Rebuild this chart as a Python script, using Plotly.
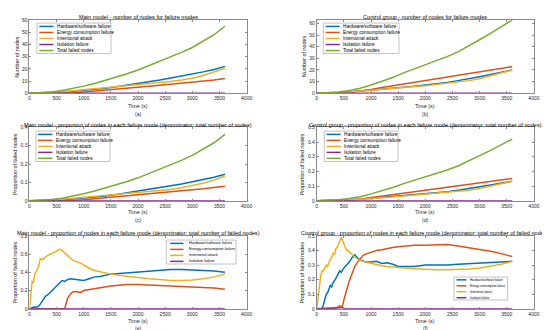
import plotly.graph_objects as go

W, H = 550, 330

# ---------------- data ----------------
NAMES = ["Hardware/software failure", "Energy consumption failure",
         "Intentional attack", "Isolation failure", "Total failed nodes"]
COLORS = ["#0072BD", "#D95319", "#EDB120", "#7E2F8E", "#77AC30"]

T = [0, 200, 400, 600, 800, 1000, 1200, 1400, 1600, 1800, 2000, 2200, 2400,
     2600, 2800, 3000, 3200, 3400, 3600]

# (a) main model - number of nodes
a_hw = [0, 0.1, 0.4, 0.9, 1.5, 2.2, 3, 4, 5.2, 6.5, 7.8, 9.2, 10.8, 12.5, 14, 15.8, 17.5, 19.5, 22]
a_ec = [0, 0, 0, 0, 0.3, 0.9, 1.6, 2.4, 3.2, 4, 4.8, 5.6, 6.5, 7.3, 8.2, 9, 9.9, 10.9, 12]
a_ia = [0, 0.2, 0.6, 1.2, 2, 2.8, 3.5, 4.2, 5, 5.8, 6.5, 7.5, 8.5, 9.5, 10.8, 12.3, 14.5, 17.2, 20.5]
a_iso = [0, 0, 0, 0, 0, 0, 0, 0, 0, 0, 0, 0, 0, 0, 0, 0, 0, 0, 0]
a_tot = [0, 0.3, 1, 2.2, 3.8, 5.8, 8, 10.5, 13, 16, 19, 22.5, 26, 29.5, 33.5, 37.5, 42.5, 48, 55]

# (b) control group - number of nodes
b_hw = [0, 0.1, 0.4, 1, 1.7, 2.5, 3.3, 4, 5, 6, 7, 8, 9.3, 10.8, 12.3, 14.2, 16, 18, 20]
b_ec = [0, 0, 0.2, 0.8, 1.8, 3.2, 4.8, 6.3, 7.8, 9.3, 10.8, 12.3, 13.8, 15.3, 17, 18.8, 20.3, 21.6, 22.8]
b_ia = [0, 0.2, 0.5, 1, 1.6, 2.3, 3.1, 3.9, 4.8, 5.7, 6.5, 7.5, 8.5, 9.5, 10.8, 12.5, 14.8, 17.2, 20]
b_iso = [0, 0, 0, 0, 0, 0, 0, 0, 0, 0, 0, 0, 0, 0, 0, 0, 0, 0, 0]
b_tot = [0, 0.3, 1, 2.3, 4.2, 7, 10, 13.5, 17.5, 21, 24, 28, 31.5, 35.5, 40.5, 46, 51.5, 57, 63]

# (c) main model - proportion of all nodes
c_hw = [0, 0.001, 0.003, 0.006, 0.01, 0.014, 0.02, 0.026, 0.034, 0.043, 0.051, 0.06, 0.071, 0.082, 0.092, 0.104, 0.115, 0.128, 0.145]
c_ec = [0, 0, 0, 0, 0.002, 0.006, 0.011, 0.016, 0.021, 0.026, 0.032, 0.037, 0.043, 0.048, 0.054, 0.059, 0.065, 0.072, 0.079]
c_ia = [0, 0.001, 0.004, 0.008, 0.013, 0.018, 0.023, 0.028, 0.033, 0.038, 0.043, 0.049, 0.056, 0.062, 0.071, 0.081, 0.095, 0.113, 0.135]
c_iso = [0, 0, 0, 0, 0, 0, 0, 0, 0, 0, 0, 0, 0, 0, 0, 0, 0, 0, 0]
c_tot = [0, 0.002, 0.007, 0.014, 0.025, 0.038, 0.053, 0.069, 0.086, 0.105, 0.125, 0.148, 0.171, 0.194, 0.22, 0.247, 0.28, 0.316, 0.362]

# (d) control group - proportion of all nodes
d_hw = [0, 0.001, 0.003, 0.007, 0.011, 0.017, 0.022, 0.027, 0.033, 0.04, 0.047, 0.053, 0.062, 0.072, 0.082, 0.095, 0.107, 0.12, 0.133]
d_ec = [0, 0, 0.001, 0.005, 0.012, 0.021, 0.032, 0.042, 0.052, 0.062, 0.072, 0.082, 0.092, 0.102, 0.113, 0.125, 0.135, 0.144, 0.152]
d_ia = [0, 0.001, 0.003, 0.007, 0.011, 0.015, 0.021, 0.026, 0.032, 0.038, 0.043, 0.05, 0.057, 0.063, 0.072, 0.083, 0.099, 0.115, 0.133]
d_iso = [0, 0, 0, 0, 0, 0, 0, 0, 0, 0, 0, 0, 0, 0, 0, 0, 0, 0, 0]
d_tot = [0, 0.002, 0.007, 0.015, 0.028, 0.047, 0.067, 0.09, 0.117, 0.14, 0.16, 0.187, 0.21, 0.237, 0.27, 0.307, 0.343, 0.38, 0.42]

# (e) main model - proportion of failed nodes
Te = [0, 25, 50, 75, 100, 125, 150, 175, 200, 250, 300, 350, 400, 450, 500, 550, 600,
      650, 700, 750, 800, 850, 900, 950, 1000, 1100, 1200, 1300, 1400, 1500, 1600,
      1800, 2000, 2200, 2400, 2600, 2800, 3000, 3200, 3400, 3600]
e_hw = [0, 0, 0.015, 0.02, 0.02, 0.02, 0.02, 0.03, 0.05, 0.10, 0.14, 0.16, 0.19, 0.22, 0.26, 0.29, 0.31,
        0.30, 0.32, 0.33, 0.325, 0.32, 0.315, 0.315, 0.31, 0.33, 0.35, 0.355, 0.37, 0.38, 0.385,
        0.395, 0.405, 0.415, 0.42, 0.43, 0.43, 0.425, 0.42, 0.415, 0.40]
e_ec = [0, 0, 0, 0, 0, 0, 0, 0, 0, 0, 0, 0, 0, 0, 0, 0, 0,
        0, 0.11, 0.16, 0.185, 0.19, 0.185, 0.18, 0.20, 0.21, 0.22, 0.235, 0.24, 0.25, 0.255,
        0.265, 0.265, 0.26, 0.258, 0.255, 0.25, 0.245, 0.237, 0.228, 0.215]
e_ia = [0, 0.15, 0.30, 0.29, 0.38, 0.41, 0.45, 0.47, 0.55, 0.54, 0.57, 0.59, 0.60, 0.62, 0.63, 0.655, 0.64,
        0.61, 0.59, 0.56, 0.53, 0.52, 0.51, 0.50, 0.48, 0.445, 0.42, 0.405, 0.39, 0.38, 0.37,
        0.355, 0.34, 0.33, 0.32, 0.31, 0.31, 0.315, 0.33, 0.35, 0.38]
e_iso = [0, 0, 0, 0, 0, 0, 0, 0, 0, 0, 0, 0, 0, 0, 0, 0, 0,
         0, 0, 0, 0, 0, 0, 0, 0, 0, 0, 0, 0, 0, 0,
         0, 0, 0, 0, 0, 0, 0, 0, 0, 0]

# (f) control group - proportion of failed nodes
Tf = [0, 25, 50, 75, 100, 125, 150, 175, 200, 225, 250, 275, 300, 325, 350, 375, 400, 425,
      450, 475, 500, 525, 550, 575, 600, 650, 700, 750, 800, 850, 900, 1000, 1100, 1200,
      1300, 1400, 1500, 1600, 1800, 2000, 2200, 2400, 2600, 2800, 3000, 3200, 3400, 3600]
f_hw = [0, 0, 0, 0, 0, 0.03, 0.07, 0.10, 0.11, 0.13, 0.16, 0.15, 0.18, 0.19, 0.21, 0.22, 0.24, 0.26,
        0.25, 0.27, 0.28, 0.29, 0.30, 0.31, 0.32, 0.35, 0.37, 0.35, 0.335, 0.33, 0.32, 0.32, 0.325, 0.31,
        0.315, 0.305, 0.29, 0.29, 0.29, 0.30, 0.298, 0.30, 0.305, 0.31, 0.315, 0.32, 0.323, 0.325]
f_ec = [0, 0, 0, 0, 0, 0, 0, 0, 0, 0, 0, 0, 0, 0, 0.005, 0.01, 0.015, 0.02,
        0.015, 0.02, 0.06, 0.10, 0.13, 0.16, 0.19, 0.24, 0.29, 0.32, 0.345, 0.365, 0.375, 0.39, 0.40, 0.405,
        0.415, 0.42, 0.425, 0.43, 0.435, 0.435, 0.44, 0.44, 0.43, 0.42, 0.41, 0.395, 0.378, 0.358]
f_ia = [0, 0.08, 0.18, 0.23, 0.26, 0.26, 0.28, 0.30, 0.29, 0.32, 0.34, 0.35, 0.38, 0.37, 0.41, 0.42, 0.44, 0.46,
        0.49, 0.47, 0.44, 0.42, 0.40, 0.40, 0.39, 0.37, 0.355, 0.34, 0.33, 0.325, 0.32, 0.31, 0.30, 0.295,
        0.29, 0.285, 0.285, 0.28, 0.275, 0.27, 0.268, 0.268, 0.27, 0.272, 0.28, 0.29, 0.305, 0.325]
f_iso = [0, 0, 0, 0, 0, 0, 0, 0, 0, 0, 0, 0, 0, 0, 0, 0, 0, 0.005,
         0.01, 0.005, 0, 0, 0, 0, 0, 0, 0, 0, 0, 0, 0, 0, 0, 0,
         0, 0, 0, 0, 0, 0, 0, 0, 0, 0, 0, 0, 0, 0]

X_TICKS = [0, 500, 1000, 1500, 2000, 2500, 3000, 3500, 4000]

TITLES = [
    "Main model - number of nodes for failure modes",
    "Control group - number of nodes for failure modes",
    "Main model - proportion of nodes in each failure mode (denominator: total number of nodes)",
    "Control group - proportion of nodes in each failure mode (denominator: total number of nodes)",
    "Main model - proportion of nodes in each failure mode (denominator: total number of failed nodes)",
    "Control group - proportion of nodes in each failure mode (denominator: total number of failed nodes)",
]
YLABELS = ["Number of nodes", "Number of nodes", "Proportion of failed nodes",
           "Proportion of failed nodes", "Proportion of failed nodes", "Proportion of failed nodes"]
LETTERS = ["(a)", "(b)", "(c)", "(d)", "(e)", "(f)"]

panels = [
    dict(t=T, ys=[a_hw, a_ec, a_ia, a_iso, a_tot], yr=[0, 60], yt=[0, 10, 20, 30, 40, 50, 60]),
    dict(t=T, ys=[b_hw, b_ec, b_ia, b_iso, b_tot], yr=[0, 62.9], yt=[0, 10, 20, 30, 40, 50, 60]),
    dict(t=T, ys=[c_hw, c_ec, c_ia, c_iso, c_tot], yr=[0, 0.4], yt=[0, 0.1, 0.2, 0.3, 0.4]),
    dict(t=T, ys=[d_hw, d_ec, d_ia, d_iso, d_tot], yr=[0, 0.5], yt=[0, 0.1, 0.2, 0.3, 0.4, 0.5]),
    dict(t=Te, ys=[e_hw, e_ec, e_ia, e_iso], yr=[0, 0.8], yt=[0, 0.2, 0.4, 0.6, 0.8]),
    dict(t=Tf, ys=[f_hw, f_ec, f_ia, f_iso], yr=[0, 0.5], yt=[0, 0.1, 0.2, 0.3, 0.4, 0.5]),
]

# ---------------- layout geometry (pixels) ----------------
def px(x):
    return x / W

def py(y):
    return 1 - y / H

COLS = [(20.7, 240.7), (311.7, 531.7)]
ROWS = [(9.3, 83.7), (118.5, 193.3), (229.0, 303.3)]
TITLE_Y = [6.0, 116.0, 225.7]
XLAB_Y = [97.0, 204.3, 316.0]
LETTER_Y = [105.0, 213.0, 323.0]
YLAB_X = [7.3, 298.3]

# legend boxes: (x0, x1, y0, y1, sample_x0, sample_x1, text_x, first_y, dy, font)
LEGENDS = [
    (28.3, 103.3, 12.3, 43.3, 30.7, 45.0, 46.7, 15.7, 6.15, 4.7),
    (318.3, 395.0, 12.3, 43.3, 320.7, 335.0, 336.7, 15.7, 6.15, 4.7),
    (27.3, 102.3, 122.3, 153.3, 29.3, 44.0, 46.0, 125.7, 6.1, 4.7),
    (319.3, 394.0, 122.3, 153.3, 321.7, 336.0, 337.7, 125.7, 6.1, 4.7),
    (159.3, 230.0, 233.3, 257.7, 163.3, 176.7, 180.0, 236.7, 6.1, 3.8),
    (450.7, 505.0, 271.0, 294.3, 453.3, 463.3, 465.0, 273.8, 6.07, 2.9),
]

AX_COLOR = "#8a8a8a"
TXT = "#262626"
FONT = "Liberation Sans, Arial, sans-serif"

fig = go.Figure()
layout = dict(width=W, height=H, margin=dict(l=0, r=0, t=0, b=0),
              paper_bgcolor="white", plot_bgcolor="white", showlegend=False,
              font=dict(family=FONT, color=TXT))
annotations = []
shapes = []

for i, p in enumerate(panels):
    r, c = i // 2, i % 2
    n = i + 1
    xa = "x" if n == 1 else f"x{n}"
    ya = "y" if n == 1 else f"y{n}"
    for k, yv in enumerate(p["ys"]):
        fig.add_trace(go.Scatter(x=p["t"], y=yv, mode="lines", name=NAMES[k],
                                 line=dict(color=COLORS[k], width=1.5),
                                 xaxis=xa, yaxis=ya, hoverinfo="skip"))
    x0, x1 = COLS[c]
    ytop, ybot = ROWS[r]
    common = dict(showline=True, linecolor=AX_COLOR, linewidth=0.8, mirror="ticks",
                  ticks="inside", ticklen=2, tickcolor=AX_COLOR, tickwidth=0.6,
                  showgrid=False, zeroline=False,
                  tickfont=dict(size=5, color=TXT, family=FONT))
    layout["xaxis" if n == 1 else f"xaxis{n}"] = dict(
        domain=[px(x0), px(x1)], anchor=ya, range=[0, 4000], tickvals=X_TICKS, **common)
    layout["yaxis" if n == 1 else f"yaxis{n}"] = dict(
        domain=[py(ybot), py(ytop)], anchor=xa, range=p["yr"], tickvals=p["yt"], **common)

    cx = (x0 + x1) / 2
    annotations.append(dict(text=TITLES[i], x=px(cx), y=py(TITLE_Y[r]), xref="paper", yref="paper",
                            showarrow=False, xanchor="center", yanchor="middle",
                            font=dict(size=5.6, color="#000000", family=FONT)))
    annotations.append(dict(text="Time (s)", x=px(cx), y=py(XLAB_Y[r]), xref="paper", yref="paper",
                            showarrow=False, xanchor="center", yanchor="middle",
                            font=dict(size=5.4, color=TXT, family=FONT)))
    annotations.append(dict(text=LETTERS[i], x=px(cx), y=py(LETTER_Y[r]), xref="paper", yref="paper",
                            showarrow=False, xanchor="center", yanchor="middle",
                            font=dict(size=5, color=TXT, family=FONT)))
    annotations.append(dict(text=YLABELS[i], x=px(YLAB_X[c] - (1.3 if r > 0 else 0)),
                            y=py((ytop + ybot) / 2), xref="paper", yref="paper",
                            showarrow=False, xanchor="center", yanchor="middle", textangle=-90,
                            font=dict(size=5.4, color=TXT, family=FONT)))

    # legend
    lx0, lx1, ly0, ly1, sx0, sx1, tx, fy, dy, fs = LEGENDS[i]
    shapes.append(dict(type="rect", xref="paper", yref="paper",
                       x0=px(lx0), x1=px(lx1), y0=py(ly1), y1=py(ly0),
                       fillcolor="white", line=dict(color="#9a9a9a", width=0.6), layer="above"))
    for k in range(len(p["ys"])):
        yy = fy + k * dy
        shapes.append(dict(type="line", xref="paper", yref="paper",
                           x0=px(sx0), x1=px(sx1), y0=py(yy), y1=py(yy),
                           line=dict(color=COLORS[k], width=1.5), layer="above"))
        annotations.append(dict(text=NAMES[k], x=px(tx), y=py(yy), xref="paper", yref="paper",
                                showarrow=False, xanchor="left", yanchor="middle",
                                font=dict(size=fs, color="#000000", family=FONT)))

layout["annotations"] = annotations
layout["shapes"] = shapes
fig.update_layout(**layout)
fig.write_html("out.html")
